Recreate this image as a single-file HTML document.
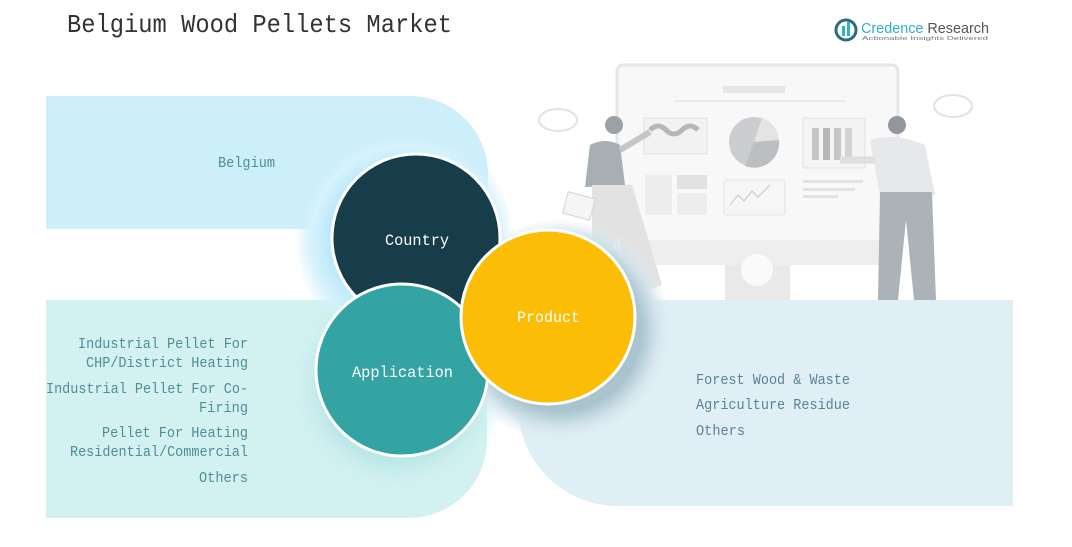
<!DOCTYPE html>
<html><head><meta charset="utf-8"><style>
html,body{margin:0;padding:0;background:#fff;}
body{width:1072px;height:547px;position:relative;overflow:hidden;font-family:"Liberation Mono",monospace;}
svg{position:absolute;left:0;top:0;}
</style></head><body>
<svg width="1072" height="547" viewBox="0 0 1072 547" xmlns="http://www.w3.org/2000/svg">
<defs>
<radialGradient id="gBlue" cx="0.5" cy="0.5" r="0.5">
<stop offset="0.7" stop-color="#bfe9fa"/><stop offset="0.85" stop-color="#d6f2fc"/><stop offset="1" stop-color="#cdeffa" stop-opacity="0"/></radialGradient>
<radialGradient id="gTeal" cx="0.5" cy="0.5" r="0.5">
<stop offset="0.7" stop-color="#bde8e8"/><stop offset="1" stop-color="#d3f1f1" stop-opacity="0"/></radialGradient>
<radialGradient id="gGray" cx="0.5" cy="0.5" r="0.5">
<stop offset="0.72" stop-color="#a9c4cf"/><stop offset="0.85" stop-color="#cfe0e8"/><stop offset="1" stop-color="#e0eef5" stop-opacity="0"/></radialGradient>
</defs>
<g opacity="0.85">
<rect x="617" y="65" width="281" height="195" rx="6" fill="#f7f7f7" stroke="#e2e2e2" stroke-width="3"/>
<rect x="617" y="240" width="281" height="25" fill="#ececec"/>
<rect x="725" y="265" width="65" height="35" fill="#e6e6e6"/>
<circle cx="757" cy="270" r="16" fill="#fafafa"/>
<rect x="723" y="86" width="62" height="7" fill="#e2e2e2"/>
<rect x="675" y="100" width="170" height="2" fill="#e6e6e6"/>
<rect x="644" y="118" width="63" height="36" fill="#f0f0f0" stroke="#dcdcdc"/>
<path d="M650 130 q8 -8 16 0 t16 0 t16 0" stroke="#aaa" stroke-width="5" fill="none"/>
<circle cx="754" cy="142" r="25" fill="#c2c5c8"/>
<path d="M754 142 L762 118 A25 25 0 0 1 779 140 Z" fill="#e0e0e0"/>
<path d="M754 142 L779 140 A25 25 0 0 1 745 166 Z" fill="#b0b4b8"/>
<rect x="803" y="118" width="62" height="50" fill="#f3f3f3" stroke="#dcdcdc"/>
<rect x="812" y="128" width="7" height="32" fill="#bbb"/><rect x="823" y="128" width="7" height="32" fill="#aaa"/><rect x="834" y="128" width="7" height="32" fill="#bbb"/><rect x="845" y="128" width="7" height="32" fill="#ccc"/>
<rect x="645" y="175" width="27" height="40" fill="#eaeaea"/><rect x="677" y="175" width="30" height="14" fill="#dcdcdc"/><rect x="677" y="193" width="30" height="22" fill="#eaeaea"/>
<rect x="724" y="180" width="61" height="35" rx="3" fill="#f5f5f5" stroke="#ddd"/>
<path d="M730 205 l8 -10 l6 6 l8 -10 l6 6 l12 -12" stroke="#bbb" fill="none"/>
<rect x="803" y="180" width="60" height="3" fill="#ddd"/><rect x="803" y="188" width="52" height="3" fill="#ddd"/><rect x="803" y="195" width="35" height="3" fill="#ddd"/>
<ellipse cx="558" cy="120" rx="19" ry="11" fill="#fff" stroke="#ddd" stroke-width="2"/>
<ellipse cx="953" cy="106" rx="19" ry="11" fill="#fff" stroke="#ddd" stroke-width="2"/>
<circle cx="614" cy="125" r="9" fill="#8a9298"/>
<path d="M590 145 q15 -8 30 0 l5 40 l-40 2 z" fill="#9aa2a8"/>
<path d="M620 150 l30 -18" stroke="#b8bec2" stroke-width="6"/>
<path d="M592 185 l40 0 l30 100 l-25 10 l-20 -60 l-15 70 l-10 0 z" fill="#dedede"/>
<rect x="565" y="195" width="28" height="22" fill="#f4f4f4" stroke="#ccc" transform="rotate(15 579 206)"/>
<circle cx="897" cy="125" r="9" fill="#7e868c"/>
<path d="M870 140 q25 -8 55 5 l10 50 l-55 0 z" fill="#e2e4e6"/>
<path d="M875 160 l-35 0" stroke="#d8dadc" stroke-width="7"/>
<path d="M880 192 l52 0 l4 108 l-22 0 l-8 -80 l-8 80 l-20 0 z" fill="#9ea6ac"/>
</g>
<path d="M46 96 H410 A78 78 0 0 1 488 174 V229 H46 Z" fill="#cdeffa"/>
<path d="M46 300 H487 V440 A78 78 0 0 1 409 518 H46 Z" fill="#d3f1f1"/>
<path d="M518 300 H1013 V506 H618 A100 100 0 0 1 518 406 Z" fill="#e0eef5"/>
<circle cx="405" cy="240" r="110" fill="url(#gBlue)"/>
<circle cx="397" cy="385" r="110" fill="url(#gTeal)"/>
<circle cx="560" cy="330" r="112" fill="url(#gGray)"/>
<circle cx="416" cy="238" r="84" fill="#173d4a" stroke="#fff" stroke-width="3"/>
<circle cx="402" cy="370" r="86" fill="#33a3a3" stroke="#fff" stroke-width="3"/>
<circle cx="548" cy="317" r="87" fill="#fbbd05" stroke="#fff" stroke-width="3"/>
<g font-family="Liberation Mono, monospace" font-size="16" fill="#fff">
<text x="385" y="245" textLength="64" lengthAdjust="spacingAndGlyphs">Country</text>
<text x="352" y="377" textLength="101" lengthAdjust="spacingAndGlyphs">Application</text>
<text x="517" y="322" textLength="63" lengthAdjust="spacingAndGlyphs">Product</text>
</g>
<text x="67" y="32" font-family="Liberation Mono, monospace" font-size="26" fill="#333" textLength="385" lengthAdjust="spacingAndGlyphs">Belgium Wood Pellets Market</text>
<circle cx="846" cy="30" r="10" fill="none" stroke="#2a6b80" stroke-width="3"/>
<rect x="842" y="26" width="3" height="10" fill="#2eb1c7"/><rect x="847" y="22" width="3" height="14" fill="#2eb1c7"/>
<text x="861" y="33" font-family="Liberation Sans, sans-serif" font-size="15" fill="#2eb1c7" textLength="128" lengthAdjust="spacingAndGlyphs">Credence <tspan fill="#555">Research</tspan></text>
<text x="862" y="40" font-family="Liberation Sans, sans-serif" font-size="5" fill="#777" textLength="126" lengthAdjust="spacingAndGlyphs">Actionable Insights Delivered</text>
<g font-family="Liberation Mono, monospace" font-size="15" fill="#4d8e97">
<text x="218" y="167" textLength="57" lengthAdjust="spacingAndGlyphs">Belgium</text>
<text x="78" y="348" textLength="170" lengthAdjust="spacingAndGlyphs">Industrial Pellet For</text>
<text x="86" y="367" textLength="162" lengthAdjust="spacingAndGlyphs">CHP/District Heating</text>
<text x="46" y="393" textLength="202" lengthAdjust="spacingAndGlyphs">Industrial Pellet For Co-</text>
<text x="199" y="412" textLength="49" lengthAdjust="spacingAndGlyphs">Firing</text>
<text x="102" y="437" textLength="146" lengthAdjust="spacingAndGlyphs">Pellet For Heating</text>
<text x="70" y="456" textLength="178" lengthAdjust="spacingAndGlyphs">Residential/Commercial</text>
<text x="199" y="482" textLength="49" lengthAdjust="spacingAndGlyphs">Others</text>
</g>
<g font-family="Liberation Mono, monospace" font-size="15" fill="#5d8296">
<text x="696" y="384" textLength="154" lengthAdjust="spacingAndGlyphs">Forest Wood &amp; Waste</text>
<text x="696" y="409" textLength="154" lengthAdjust="spacingAndGlyphs">Agriculture Residue</text>
<text x="696" y="435" textLength="49" lengthAdjust="spacingAndGlyphs">Others</text>
</g>
</svg>
</body></html>
